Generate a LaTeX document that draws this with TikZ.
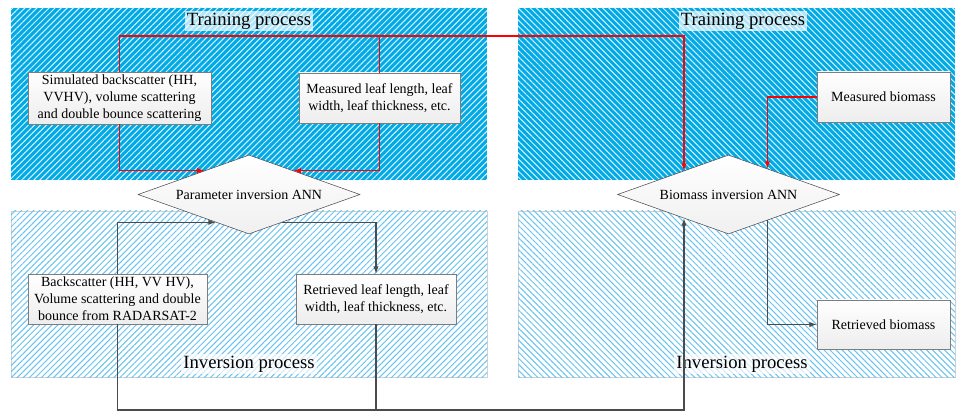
\documentclass[tikz,border=0pt]{standalone}
\usepackage{fontspec}
\setmainfont{Liberation Serif}
\usetikzlibrary{arrows.meta,calc,patterns.meta,shapes.geometric,shadows}
\definecolor{trainblue}{RGB}{0,170,230}
\definecolor{invblue}{RGB}{105,195,240}
\definecolor{boxgray}{RGB}{125,125,125}
\definecolor{linkgray}{RGB}{75,75,75}
\tikzset{
  infobox/.style={draw=boxgray, top color=white, bottom color=gray!14, align=center, inner sep=2pt,
    font=\fontsize{10.5}{12.6}\selectfont, drop shadow={shadow xshift=0.8pt, shadow yshift=-0.8pt, opacity=0.25}},
  annbox/.style={diamond, draw=linkgray, top color=white, bottom color=gray!12, aspect=2.8,
    minimum width=166.5pt, minimum height=59.25pt, inner sep=1pt, font=\fontsize{10.5}{12.6}\selectfont},
  panetitle/.style={fill=white, fill opacity=0.7, text opacity=1, inner sep=1.5pt, font=\fontsize{14}{16}\selectfont},
  redlink/.style={draw=red, line width=0.8pt},
  graylink/.style={draw=linkgray, line width=0.8pt},
  arrowtip/.style={-{Latex[length=5.5pt,width=4pt]}}
}
\begin{document}
\begin{tikzpicture}[x=0.75pt,y=-0.75pt]
\useasboundingbox (0,0) rectangle (956,413);
% panels
\begin{scope} %training
\path[fill=trainblue, postaction={pattern={Lines[angle=45,distance=3.2pt,line width=0.75pt]}, pattern color=white!85!trainblue}] (11,8) rectangle (487,180);
\path[fill=trainblue, postaction={pattern={Lines[angle=-45,distance=3.2pt,line width=0.75pt]}, pattern color=white!85!trainblue}] (518,8) rectangle (955,180);
\end{scope}
\begin{scope} %inversion
\path[draw=gray!35, fill=white, postaction={pattern={Lines[angle=45,distance=3.2pt,line width=0.75pt]}, pattern color=invblue}] (11,211) rectangle (487,377);
\path[draw=gray!35, fill=white, postaction={pattern={Lines[angle=-45,distance=3.2pt,line width=0.75pt]}, pattern color=invblue}] (518,211) rectangle (955,377);
\end{scope}
\node[panetitle] (ttl1) at (249,21) {Training process};
\node[panetitle] (ttl2) at (743,21) {Training process};
\node[panetitle] (inv1) at (249,364) {Inversion process};
\node[panetitle] (inv2) at (742,364) {Inversion process};
% boxes
\node[infobox, minimum width=137.25pt, minimum height=37.5pt] (sim) at (119.5,98)
  {Simulated backscatter (HH,\\VVHV), volume scattering\\and double bounce scattering};
\node[infobox, minimum width=120.75pt, minimum height=37.5pt] (mleaf) at (379.5,98)
  {Measured leaf length, leaf\\width, leaf thickness, etc.};
\node[infobox, minimum width=99.75pt, minimum height=37.5pt] (mbio) at (883.5,97) {Measured biomass};
\node[infobox, minimum width=134.25pt, minimum height=37.5pt] (back) at (117.5,299)
  {Backscatter (HH, VV HV),\\Volume scattering and double\\bounce from RADARSAT-2};
\node[infobox, minimum width=120pt, minimum height=37.5pt] (rleaf) at (376,299)
  {Retrieved leaf length, leaf\\width, leaf thickness, etc.};
\node[infobox, minimum width=99.75pt, minimum height=37pt] (rbio) at (883.5,324.5) {Retrieved biomass};
\node[annbox] (pann) at (249,194.5) {Parameter inversion ANN};
\node[annbox] (bann) at (728.5,194.5) {Biomass inversion ANN};
% points on the diamond sides
\coordinate (pin1) at ($(pann.west)!0.6!(pann.north)$);
\coordinate (pin2) at ($(pann.east)!0.6!(pann.north)$);
\coordinate (pin3) at ($(pann.west)!0.7!(pann.south)$);
\coordinate (pout) at ($(pann.east)!0.7!(pann.south)$);
\coordinate (bin1) at ($(bann.west)!0.6!(bann.north)$);
\coordinate (bin2) at ($(bann.east)!0.65!(bann.north)$);
\coordinate (bin3) at ($(bann.west)!0.6!(bann.south)$);
\coordinate (bout) at ($(bann.east)!0.65!(bann.south)$);
\coordinate (toprail) at (0,36);
\coordinate (botrail) at (0,410);
% training links
\draw[redlink, arrowtip] (sim.south) |- (pin1);
\draw[redlink, arrowtip] (mleaf.south) |- (pin2);
\draw[redlink, arrowtip] (sim.north) -- (sim.north |- toprail) -| (bin1);
\draw[redlink] (mleaf.north) -- (mleaf.north |- toprail);
\draw[redlink, arrowtip] (mbio.west) -| (bin2);
% inversion links
\draw[graylink, arrowtip] (back.north) |- (pin3);
\draw[graylink, arrowtip] (pout) -| (rleaf.north);
\draw[graylink, arrowtip] (back.south) -- (back.south |- botrail) -| (bin3);
\draw[graylink] (rleaf.south) -- (rleaf.south |- botrail);
\draw[graylink, arrowtip] (bout) |- (rbio.west);
\end{tikzpicture}
\end{document}
